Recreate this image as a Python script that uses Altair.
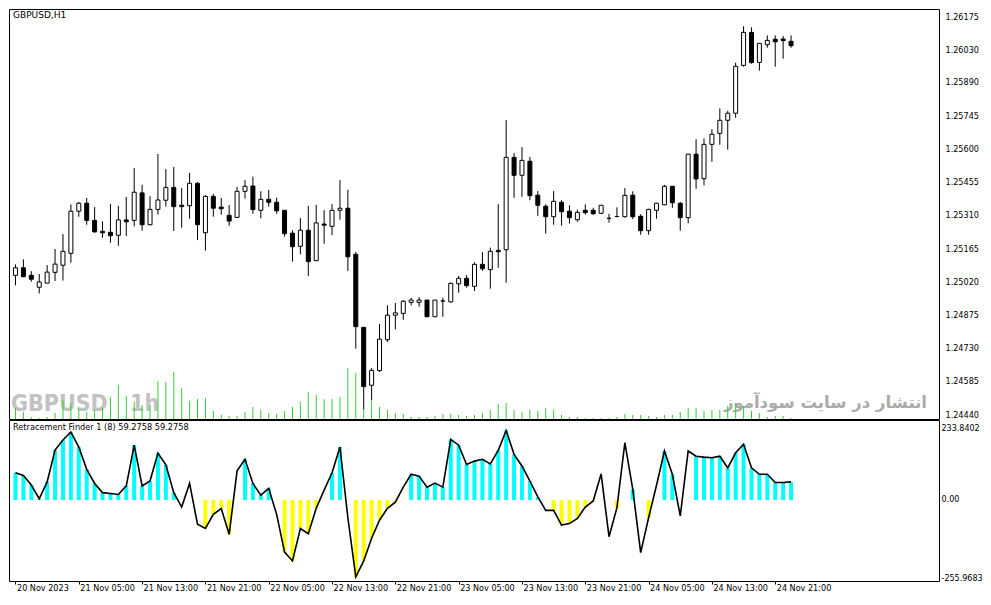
import altair as alt
import pandas as pd

symbol_title = "GBPUSD,H1"
watermark_symbol = "GBPUSD"
watermark_tf = "1h"
watermark_site = "انتشار در سایت سودآموز"
indicator_title = "Retracement Finder 1 (8) 59.2758 59.2758"

time_labels = ["20 Nov 2023", "21 Nov 05:00", "21 Nov 13:00", "21 Nov 21:00",
               "22 Nov 05:00", "22 Nov 13:00", "22 Nov 21:00", "23 Nov 05:00",
               "23 Nov 13:00", "23 Nov 21:00", "24 Nov 05:00", "24 Nov 13:00",
               "24 Nov 21:00"]
price_ticks = [1.26175, 1.26030, 1.25890, 1.25745, 1.25600, 1.25455, 1.25310,
               1.25165, 1.25020, 1.24875, 1.24730, 1.24585, 1.24440]
ind_ticks = [233.8402, 0.0, -255.9683]

opens = [1.25050, 1.25083, 1.25050, 1.24998, 1.25016, 1.25063, 1.25094, 1.25146, 1.25330, 1.25365,
         1.25290, 1.25242, 1.25238, 1.25225, 1.25292, 1.25290, 1.25410, 1.25271, 1.25338, 1.25378,
         1.25434, 1.25356, 1.25354, 1.25452, 1.25236, 1.25395, 1.25348, 1.25312, 1.25303, 1.25417,
         1.25440, 1.25334, 1.25382, 1.25369, 1.25334, 1.25234, 1.25177, 1.25247, 1.25114, 1.25274,
         1.25264, 1.25334, 1.25343, 1.25142, 1.24823, 1.24570, 1.24634, 1.24769, 1.24876, 1.24884,
         1.24932, 1.24932, 1.24942, 1.24869, 1.24938, 1.24934, 1.25013, 1.25037, 1.25002, 1.25098,
         1.25075, 1.25159, 1.25162, 1.25565, 1.25487, 1.25548, 1.25400, 1.25352, 1.25306, 1.25369,
         1.25330, 1.25293, 1.25334, 1.25334, 1.25321, 1.25299, 1.25307, 1.25306, 1.25400, 1.25308,
         1.25245, 1.25334, 1.25358, 1.25439, 1.25365, 1.25302, 1.25579, 1.25472, 1.25622, 1.25670,
         1.25727, 1.25758, 1.25967, 1.26111, 1.25980, 1.26057, 1.26081, 1.26082, 1.26072]
highs = [1.25098, 1.25120, 1.25068, 1.25056, 1.25095, 1.25165, 1.25230, 1.25360, 1.25370, 1.25388,
         1.25348, 1.25286, 1.25361, 1.25353, 1.25392, 1.25519, 1.25445, 1.25396, 1.25580, 1.25514,
         1.25523, 1.25431, 1.25497, 1.25458, 1.25400, 1.25406, 1.25388, 1.25357, 1.25436, 1.25466,
         1.25481, 1.25417, 1.25423, 1.25389, 1.25334, 1.25247, 1.25300, 1.25353, 1.25357, 1.25335,
         1.25361, 1.25466, 1.25423, 1.25152, 1.24823, 1.24645, 1.24838, 1.24919, 1.24929, 1.24942,
         1.24952, 1.24955, 1.24942, 1.24942, 1.24952, 1.25018, 1.25047, 1.25051, 1.25107, 1.25152,
         1.25171, 1.25361, 1.25728, 1.25584, 1.25610, 1.25567, 1.25418, 1.25360, 1.25418, 1.25378,
         1.25356, 1.25337, 1.25360, 1.25345, 1.25356, 1.25319, 1.25347, 1.25431, 1.25417, 1.25317,
         1.25341, 1.25367, 1.25445, 1.25440, 1.25370, 1.25581, 1.25644, 1.25648, 1.25688, 1.25779,
         1.25768, 1.25979, 1.26138, 1.26133, 1.26063, 1.26098, 1.26098, 1.26095, 1.26098]
lows = [1.25006, 1.25043, 1.25022, 1.24971, 1.25016, 1.25025, 1.25027, 1.25105, 1.25306, 1.25271,
        1.25236, 1.25214, 1.25192, 1.25179, 1.25222, 1.25264, 1.25245, 1.25269, 1.25315, 1.25350,
        1.25244, 1.25258, 1.25297, 1.25204, 1.25158, 1.25306, 1.25315, 1.25267, 1.25303, 1.25385,
        1.25319, 1.25299, 1.25350, 1.25319, 1.25219, 1.25110, 1.25142, 1.25047, 1.25113, 1.25188,
        1.25226, 1.25293, 1.25069, 1.24730, 1.24465, 1.24506, 1.24628, 1.24759, 1.24814, 1.24856,
        1.24919, 1.24913, 1.24869, 1.24869, 1.24869, 1.24931, 1.24974, 1.24996, 1.24982, 1.25070,
        1.24992, 1.25083, 1.25018, 1.25389, 1.25393, 1.25378, 1.25310, 1.25232, 1.25271, 1.25267,
        1.25276, 1.25284, 1.25315, 1.25315, 1.25317, 1.25280, 1.25303, 1.25302, 1.25296, 1.25227,
        1.25227, 1.25297, 1.25356, 1.25345, 1.25245, 1.25277, 1.25428, 1.25443, 1.25546, 1.25620,
        1.25599, 1.25738, 1.25961, 1.25974, 1.25944, 1.26044, 1.25961, 1.25996, 1.26044]
closes = [1.25083, 1.25044, 1.25033, 1.25021, 1.25064, 1.25099, 1.25155, 1.25330, 1.25365, 1.25290,
          1.25240, 1.25236, 1.25223, 1.25292, 1.25284, 1.25413, 1.25271, 1.25338, 1.25379, 1.25434,
          1.25350, 1.25350, 1.25452, 1.25271, 1.25395, 1.25343, 1.25341, 1.25287, 1.25417, 1.25439,
          1.25337, 1.25382, 1.25369, 1.25332, 1.25232, 1.25175, 1.25247, 1.25110, 1.25279, 1.25269,
          1.25334, 1.25343, 1.25131, 1.24826, 1.24564, 1.24635, 1.24771, 1.24876, 1.24886, 1.24937,
          1.24942, 1.24942, 1.24869, 1.24942, 1.24938, 1.25015, 1.25037, 1.25005, 1.25098, 1.25079,
          1.25155, 1.25153, 1.25565, 1.25487, 1.25552, 1.25398, 1.25356, 1.25306, 1.25373, 1.25328,
          1.25302, 1.25325, 1.25324, 1.25319, 1.25356, 1.25299, 1.25307, 1.25399, 1.25306, 1.25245,
          1.25338, 1.25365, 1.25439, 1.25367, 1.25302, 1.25579, 1.25471, 1.25622, 1.25666, 1.25727,
          1.25758, 1.25963, 1.26111, 1.25979, 1.26063, 1.26076, 1.26070, 1.26075, 1.26053]
volumes = [642, 420, 120, 60, 120, 360, 1122, 960, 618, 420,
           540, 660, 1320, 2040, 1380, 1020, 840, 840, 2280, 2220,
           2820, 1860, 1098, 1200, 1260, 480, 258, 180, 180, 420,
           720, 540, 360, 300, 480, 720, 1020, 1620, 1440, 1182,
           1200, 1320, 3060, 2760, 618, 1140, 720, 558, 360, 300,
           120, 120, 120, 180, 300, 300, 240, 180, 240, 360,
           540, 900, 960, 540, 420, 540, 480, 660, 540, 240,
           120, 120, 60, 60, 60, 60, 120, 300, 240, 240,
           180, 120, 240, 240, 420, 660, 660, 480, 540, 540,
           780, 960, 780, 480, 360, 120, 180, 180, 60]

ind_line = [89, 80, 49, 4, 59, 163, 196, 222, 173, 100,
            54, 24, 21, 18, 46, 179, 46, 62, 153, 115,
            24, -23, 54, -79, -93, -47, -28, -112, 95, 133,
            54, 16, 38, -47, -170, -199, -93, -110, -27, 32,
            89, 173, -58, -251, -199, -125, -66, -27, -7, 42,
            84, 78, 42, 55, 42, 198, 179, 116, 127, 133,
            118, 162, 227, 149, 111, 62, 10, -34, -34, -82,
            -77, -60, -23, -3, 85, -120, -25, 187, 35, -172,
            -58, 48, 160, 84, -52, 160, 143, 140, 138, 143,
            105, 154, 182, 105, 84, 84, 57, 57, 59.2758]
ind_hist = [89, 80, 49, 4, 59, 163, 196, 222, 173, 100,
            54, 24, 21, 18, 46, 179, 46, 62, 153, 115,
            24, None, None, None, -93, -47, -28, -112, None, 133,
            54, 16, 38, None, -170, -199, -93, -110, -27, None,
            89, 173, None, -251, -199, -125, -66, -27, -7, None,
            84, 78, 42, 55, 42, 198, 179, 116, 127, 133,
            118, 162, 227, 149, 111, 62, 10, None, -34, -82,
            -77, -60, -23, -3, None, None, -25, None, 35, None,
            -58, None, 160, 84, None, None, 143, 140, 138, 143,
            105, 154, 182, 105, 84, 84, 57, 57, 59.2758]

n = len(opens)
idx = list(range(n))
candles = pd.DataFrame({"i": idx, "open": opens, "high": highs, "low": lows,
                        "close": closes, "vol": volumes})
candles["dir"] = ["up" if c >= o else "down" for o, c in zip(opens, closes)]

ind = pd.DataFrame({"i": idx, "line": ind_line, "hist": ind_hist})
hist_df = ind.dropna(subset=["hist"]).copy()
hist_df["sign"] = ["pos" if v > 0 else "neg" for v in hist_df["hist"]]

W = 930
H_TOP = 410
H_BOT = 161
FONT = "DejaVu Sans"
WM_FONT = "DejaVu Sans Condensed, Liberation Sans Narrow, Liberation Sans"

xs = alt.Scale(domain=[-0.1875, -0.1875 + W / 8.0], nice=False, zero=False)
ps = alt.Scale(domain=[1.244226, 1.262131], nice=False, zero=False)
vs = alt.Scale(domain=[0, 24600], nice=False, zero=False)
ys = alt.Scale(domain=[-264.5, 261.2], nice=False, zero=False)

X_none = alt.X("i:Q", scale=xs, axis=None)

price_axis = alt.Axis(orient="right", values=price_ticks, format=".5f", ticks=False,
                      tickSize=0, labelPadding=6, domain=False, grid=False, title=None,
                      labelOverlap=False, labelFlush=False)

base = alt.Chart(candles)
vol = base.mark_bar(size=1, color="#32CD32").encode(
    x=X_none, y=alt.Y("vol:Q", scale=vs, axis=None), y2=alt.datum(0))
wick = base.mark_rule(color="black", strokeWidth=1).encode(
    x=X_none, y=alt.Y("low:Q", scale=ps, axis=price_axis), y2="high:Q")
body = base.mark_bar(size=4, stroke="black", strokeWidth=1).encode(
    x=X_none, y=alt.Y("open:Q", scale=ps, axis=None), y2="close:Q",
    fill=alt.Fill("dir:N", scale=alt.Scale(domain=["up", "down"], range=["white", "black"]),
                  legend=None))


def label_layer(text, **kw):
    return alt.Chart(pd.DataFrame({"t": [text]})).mark_text(**kw).encode(text="t:N")


title_txt = label_layer(symbol_title, align="left", baseline="top", font=FONT, fontSize=9,
                        color="black").encode(x=alt.value(4), y=alt.value(2))
wm1 = label_layer(watermark_symbol, align="left", baseline="alphabetic", font=WM_FONT,
                  fontWeight="bold", fontSize=23, color="#C2C2C2").encode(
    x=alt.value(2), y=alt.value(402))
wm2 = label_layer(watermark_tf, align="left", baseline="alphabetic", font=WM_FONT,
                  fontWeight="bold", fontSize=23, color="#C2C2C2").encode(
    x=alt.value(121), y=alt.value(402))
wm3 = label_layer(watermark_site, align="right", baseline="alphabetic", font=FONT,
                  fontWeight="bold", fontSize=16.5, color="#ABABAB").encode(
    x=alt.value(918), y=alt.value(399))

top = alt.layer(wm1, wm2, wm3, vol, wick, body, title_txt).resolve_scale(
    y="independent").properties(width=W, height=H_TOP)

label_js = "[" + ",".join("'" + t + "'" for t in time_labels) + "][round(datum.value / 8)]"
x_axis = alt.Axis(values=[8 * k for k in range(len(time_labels))], labelExpr=label_js,
                  labelAlign="left", labelBaseline="top", labelPadding=0, labelOffset=1,
                  tickSize=3, tickColor="black", ticks=True, domain=False, grid=False,
                  title=None, labelFlush=False, labelOverlap=False)
ind_label_expr = ("datum.value == 0 ? '0.00' : (datum.value < 0 ? '-' + format(-datum.value, '.4f')"
                  " : format(datum.value, '.4f'))")
ind_axis = alt.Axis(orient="right", values=ind_ticks, labelExpr=ind_label_expr,
                    ticks=False, tickSize=0, labelPadding=2, labelFontSize=8.0,
                    domain=False, grid=False, title=None, labelOverlap=False,
                    labelFlush=False)

X_ind = alt.X("i:Q", scale=xs, axis=x_axis)
hist = alt.Chart(hist_df).mark_bar(size=4).encode(
    x=X_ind,
    y=alt.Y("hist:Q", scale=ys, axis=ind_axis), y2=alt.datum(0),
    color=alt.Color("sign:N", scale=alt.Scale(domain=["pos", "neg"],
                                              range=["#00FFFF", "#FFFF00"]), legend=None))
line = alt.Chart(ind).mark_line(color="black", strokeWidth=1.6).encode(
    x=X_ind, y=alt.Y("line:Q", scale=ys, axis=ind_axis))
ind_txt = label_layer(indicator_title, align="left", baseline="top", font=FONT,
                      fontSize=8.2, color="black").encode(x=alt.value(4), y=alt.value(4))

bottom = alt.layer(hist, line, ind_txt).properties(width=W, height=H_BOT)

chart = alt.vconcat(top, bottom, spacing=1, bounds="flush").properties(
    padding={"left": 0, "top": 0, "right": 0, "bottom": 0}, background="white"
).configure_view(stroke="black", strokeWidth=1).configure_axis(
    labelFont=FONT, labelFontSize=8.1, labelColor="black")

chart.save("out.html", embed_options={"renderer": "svg", "actions": False})
